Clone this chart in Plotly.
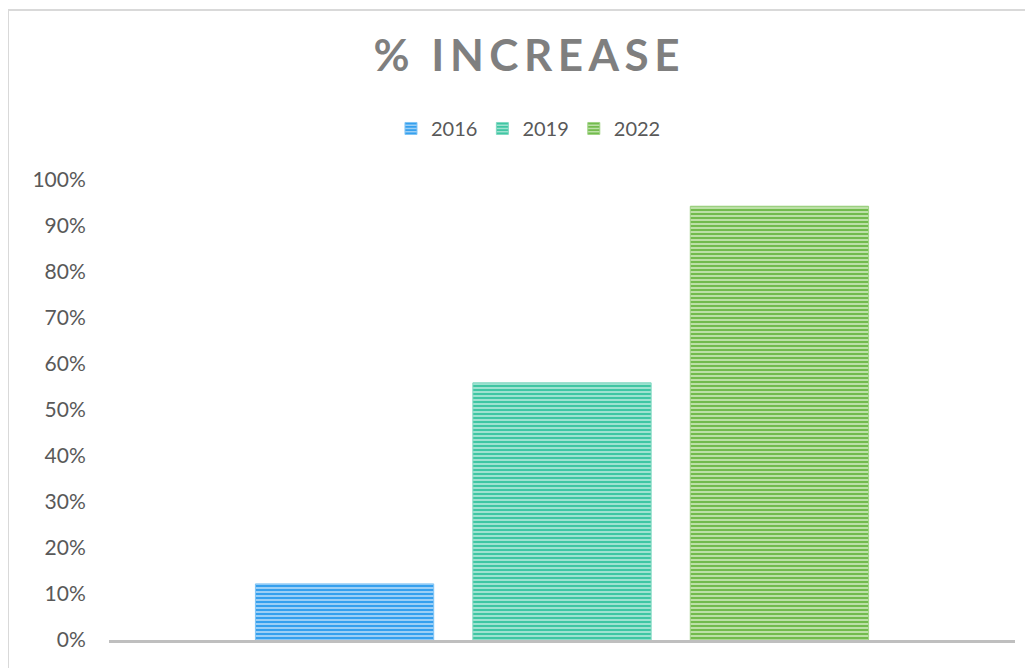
import plotly.graph_objects as go

categories = ["% Increase"]
series_names = ["2016", "2019", "2022"]
values_2016 = [0.122]
values_2019 = [0.559]
values_2022 = [0.943]
tick_vals = [0, 0.1, 0.2, 0.3, 0.4, 0.5, 0.6, 0.7, 0.8, 0.9, 1.0]
tick_text = ["0%", "10%", "20%", "30%", "40%", "50%", "60%", "70%", "80%", "90%", "100%"]

fg_colors = ["#35a0ee", "#3fc6a3", "#72bb4d"]
bg_colors = ["#a6d5f7", "#a9e6d5", "#c4e4b0"]
edge_colors = ["#7fc3f4", "#80d8c1", "#9fd283"]

fig = go.Figure()
for name, vals, fg, bg, ec in zip(series_names, [values_2016, values_2019, values_2022],
                                  fg_colors, bg_colors, edge_colors):
    fig.add_trace(go.Bar(
        x=categories, y=vals, name=name,
        marker=dict(color=fg,
                    pattern=dict(shape="-", fgcolor=fg, bgcolor=bg, size=4, solidity=0.55, fillmode="replace"),
                    line=dict(color=ec, width=1)),
    ))

FONT = "Lato"
title_text = "\u2009".join(list("% INCREASE"))
fig.update_layout(
    width=1033, height=668,
    margin=dict(l=101, r=26, t=172, b=36),
    paper_bgcolor="white", plot_bgcolor="white",
    barmode="group", bargap=0.28, bargroupgap=0.18,
    font=dict(family=FONT, color="#595959", size=20),
    title=dict(text="<b>" + title_text + "</b>", x=0.502, xanchor="center", y=0.928, yanchor="middle",
               font=dict(family=FONT, size=44, color="#7f7f7f")),
    legend=dict(orientation="h", x=0.463, xanchor="center", y=1.112, yanchor="middle",
                font=dict(family=FONT, size=20, color="#595959"),
                itemwidth=30, traceorder="normal"),
    showlegend=True,
    xaxis=dict(showticklabels=False, showline=True, linecolor="#bfbfbf", linewidth=3,
               showgrid=False, zeroline=False, ticks=""),
    yaxis=dict(range=[0, 1], tickvals=tick_vals, ticktext=tick_text, showgrid=False,
               zeroline=False, showline=False, ticks="outside", ticklen=18, tickcolor="rgba(0,0,0,0)",
               tickfont=dict(family=FONT, size=21, color="#595959")),
    shapes=[dict(type="rect", xref="paper", yref="paper", x0=-0.1115, x1=1.04, y0=-0.1, y1=1.3696,
                 line=dict(color="#d9d9d9", width=2), fillcolor="rgba(0,0,0,0)", layer="below")],
)

fig.write_html("out.html")
